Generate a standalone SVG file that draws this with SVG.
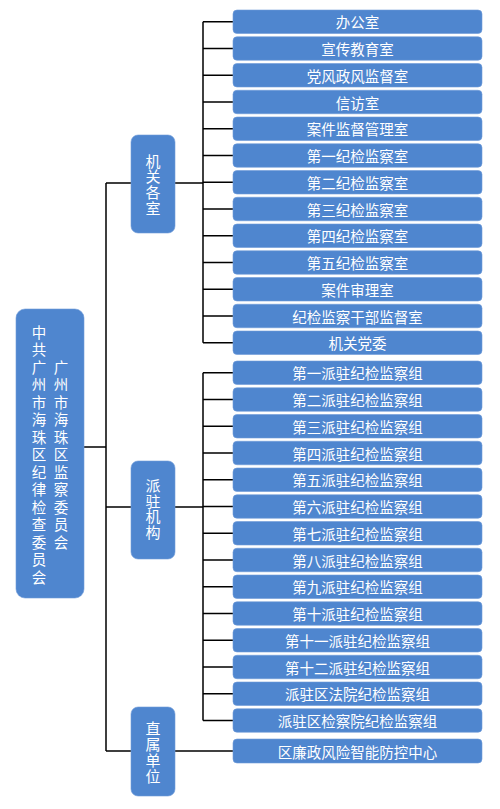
<svg xmlns="http://www.w3.org/2000/svg" width="500" height="809" viewBox="0 0 500 809">
<style>
.bx{fill:#4F86CF;stroke:#6F9BD8;stroke-width:0.6}
.t{font-family:"Noto Sans CJK SC","Noto Sans",sans-serif;fill:#fff;text-anchor:middle;dominant-baseline:central}
.v{font-family:"Noto Sans CJK SC","Noto Sans",sans-serif;fill:#fff;writing-mode:vertical-rl;text-anchor:start}
.r{font-size:14.5px}
.m{font-size:15px}
.root{font-size:14.5px;letter-spacing:3px}
.ln{stroke:#000;stroke-width:1.5;fill:none}
</style>
<rect width="500" height="809" fill="#fff"/>
<g id="connectors">
<path class="ln" d="M84 447H106M106 183V751M106 183H131M106 507H131M106 751H131"/>
<path class="ln" d="M175 183H203M203 21.75V342.75"/>
<path class="ln" d="M203 21.75H233M203 48.5H233M203 75.25H233M203 102H233M203 128.75H233M203 155.5H233M203 182.25H233M203 209H233M203 235.75H233M203 262.5H233M203 289.25H233M203 316H233M203 342.75H233"/>
<path class="ln" d="M175 507H203M203 372.75V720.5"/>
<path class="ln" d="M203 372.75H233M203 399.5H233M203 426.25H233M203 453H233M203 479.75H233M203 506.5H233M203 533.25H233M203 560H233M203 586.75H233M203 613.5H233M203 640.25H233M203 667H233M203 693.75H233M203 720.5H233"/>
<path class="ln" d="M175 751H233"/>
</g>
<g id="root">
<rect class="bx" x="16" y="309" width="68" height="289" rx="9"/>
<text class="v root" x="39" y="324.75">中共广州市海珠区纪律检查委员会</text>
<text class="v root" x="61" y="359.75">广州市海珠区监察委员会</text>
</g>
<g id="jiguan">
<rect class="bx" x="131" y="135" width="44" height="98" rx="7"/>
<text class="v m" x="153" y="153.5" style="letter-spacing:0.7px">机关各室</text>
</g>
<g id="paizhu">
<rect class="bx" x="131" y="461" width="44" height="98" rx="7"/>
<text class="v m" x="153" y="477.5" style="letter-spacing:0.9px">派驻机构</text>
</g>
<g id="zhishu">
<rect class="bx" x="131" y="707" width="44" height="89" rx="7"/>
<text class="v m" x="153" y="720.5" style="letter-spacing:1px">直属单位</text>
</g>
<g id="n1"><rect class="bx" x="233" y="10" width="249" height="23.5" rx="4"/><text class="t r" x="357.5" y="21.75">办公室</text></g>
<g id="n2"><rect class="bx" x="233" y="36.75" width="249" height="23.5" rx="4"/><text class="t r" x="357.5" y="48.5">宣传教育室</text></g>
<g id="n3"><rect class="bx" x="233" y="63.5" width="249" height="23.5" rx="4"/><text class="t r" x="357.5" y="75.25">党风政风监督室</text></g>
<g id="n4"><rect class="bx" x="233" y="90.25" width="249" height="23.5" rx="4"/><text class="t r" x="357.5" y="102">信访室</text></g>
<g id="n5"><rect class="bx" x="233" y="117" width="249" height="23.5" rx="4"/><text class="t r" x="357.5" y="128.75">案件监督管理室</text></g>
<g id="n6"><rect class="bx" x="233" y="143.75" width="249" height="23.5" rx="4"/><text class="t r" x="357.5" y="155.5">第一纪检监察室</text></g>
<g id="n7"><rect class="bx" x="233" y="170.5" width="249" height="23.5" rx="4"/><text class="t r" x="357.5" y="182.25">第二纪检监察室</text></g>
<g id="n8"><rect class="bx" x="233" y="197.25" width="249" height="23.5" rx="4"/><text class="t r" x="357.5" y="209">第三纪检监察室</text></g>
<g id="n9"><rect class="bx" x="233" y="224" width="249" height="23.5" rx="4"/><text class="t r" x="357.5" y="235.75">第四纪检监察室</text></g>
<g id="n10"><rect class="bx" x="233" y="250.75" width="249" height="23.5" rx="4"/><text class="t r" x="357.5" y="262.5">第五纪检监察室</text></g>
<g id="n11"><rect class="bx" x="233" y="277.5" width="249" height="23.5" rx="4"/><text class="t r" x="357.5" y="289.25">案件审理室</text></g>
<g id="n12"><rect class="bx" x="233" y="304.25" width="249" height="23.5" rx="4"/><text class="t r" x="357.5" y="316">纪检监察干部监督室</text></g>
<g id="n13"><rect class="bx" x="233" y="331" width="249" height="23.5" rx="4"/><text class="t r" x="357.5" y="342.75">机关党委</text></g>
<g id="p1"><rect class="bx" x="233" y="361" width="249" height="23.5" rx="4"/><text class="t r" x="357.5" y="372.75">第一派驻纪检监察组</text></g>
<g id="p2"><rect class="bx" x="233" y="387.75" width="249" height="23.5" rx="4"/><text class="t r" x="357.5" y="399.5">第二派驻纪检监察组</text></g>
<g id="p3"><rect class="bx" x="233" y="414.5" width="249" height="23.5" rx="4"/><text class="t r" x="357.5" y="426.25">第三派驻纪检监察组</text></g>
<g id="p4"><rect class="bx" x="233" y="441.25" width="249" height="23.5" rx="4"/><text class="t r" x="357.5" y="453">第四派驻纪检监察组</text></g>
<g id="p5"><rect class="bx" x="233" y="468" width="249" height="23.5" rx="4"/><text class="t r" x="357.5" y="479.75">第五派驻纪检监察组</text></g>
<g id="p6"><rect class="bx" x="233" y="494.75" width="249" height="23.5" rx="4"/><text class="t r" x="357.5" y="506.5">第六派驻纪检监察组</text></g>
<g id="p7"><rect class="bx" x="233" y="521.5" width="249" height="23.5" rx="4"/><text class="t r" x="357.5" y="533.25">第七派驻纪检监察组</text></g>
<g id="p8"><rect class="bx" x="233" y="548.25" width="249" height="23.5" rx="4"/><text class="t r" x="357.5" y="560">第八派驻纪检监察组</text></g>
<g id="p9"><rect class="bx" x="233" y="575" width="249" height="23.5" rx="4"/><text class="t r" x="357.5" y="586.75">第九派驻纪检监察组</text></g>
<g id="p10"><rect class="bx" x="233" y="601.75" width="249" height="23.5" rx="4"/><text class="t r" x="357.5" y="613.5">第十派驻纪检监察组</text></g>
<g id="p11"><rect class="bx" x="233" y="628.5" width="249" height="23.5" rx="4"/><text class="t r" x="357.5" y="640.25">第十一派驻纪检监察组</text></g>
<g id="p12"><rect class="bx" x="233" y="655.25" width="249" height="23.5" rx="4"/><text class="t r" x="357.5" y="667">第十二派驻纪检监察组</text></g>
<g id="p13"><rect class="bx" x="233" y="682" width="249" height="23.5" rx="4"/><text class="t r" x="357.5" y="693.75">派驻区法院纪检监察组</text></g>
<g id="p14"><rect class="bx" x="233" y="708.75" width="249" height="23.5" rx="4"/><text class="t r" x="357.5" y="720.5">派驻区检察院纪检监察组</text></g>
<g id="z1"><rect class="bx" x="233" y="739" width="249" height="24" rx="4"/><text class="t r" x="357.5" y="751">区廉政风险智能防控中心</text></g>
</svg>
